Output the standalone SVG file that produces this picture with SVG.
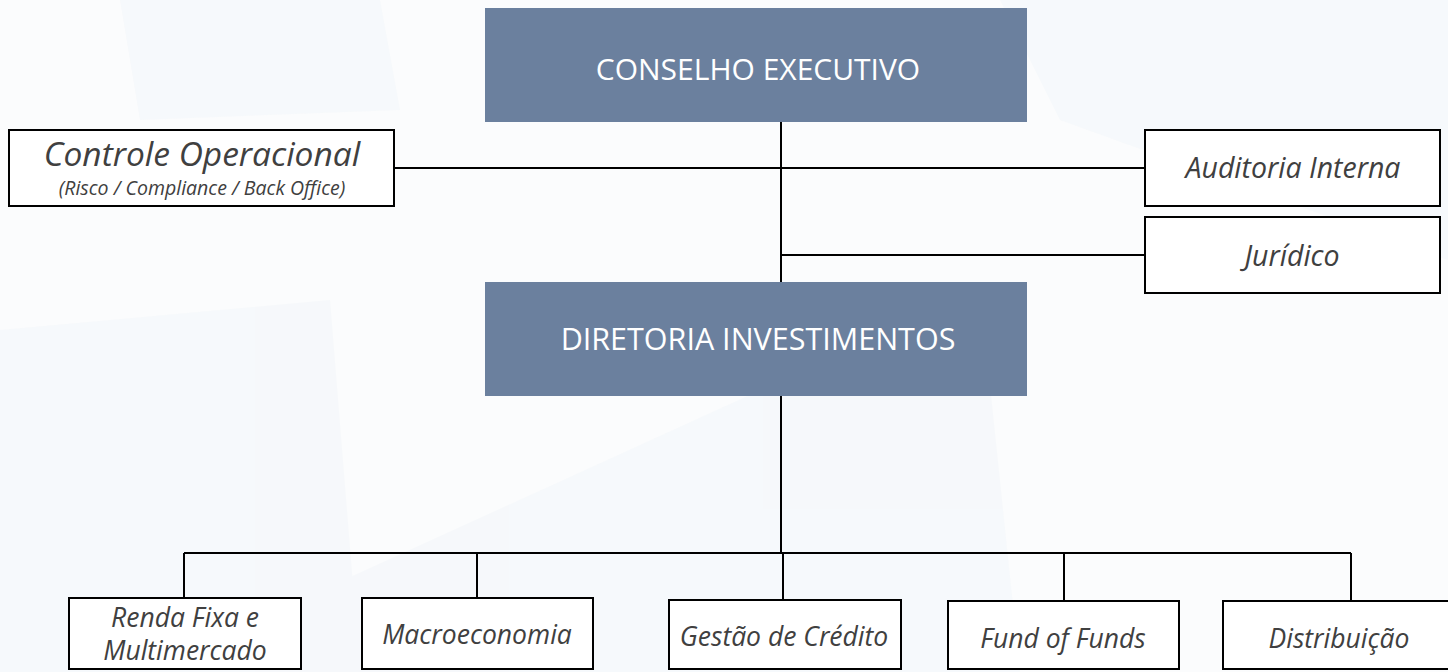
<svg xmlns="http://www.w3.org/2000/svg" width="1448" height="672" viewBox="0 0 1448 672">
<style>
.hdr{fill:#6b809e}
.box{fill:#ffffff;stroke:#000;stroke-width:2}
.ln{stroke:#000;stroke-width:2;fill:none}
.ht{font-family:"Open Sans","Liberation Sans",sans-serif;fill:#ffffff;text-anchor:middle}
.it{font-family:"Open Sans","Liberation Sans",sans-serif;font-style:italic;fill:#404040;text-anchor:middle}
.b{font-size:26.5px}
.r{font-size:28.5px}
</style>
<rect width="1448" height="672" fill="#fbfcfd"/>
<g id="bg" fill="#eef3f8" opacity="0.35">
<polygon points="0,330 330,300 360,672 0,672"/>
<polygon points="300,600 980,290 1020,672 320,672"/>
<polygon points="1000,0 1448,0 1448,260 1060,120"/>
<polygon points="120,0 380,0 400,110 140,120"/>
</g>
<g id="connectors">
<path class="ln" d="M781,122 V282 M781,396 V553"/>
<path class="ln" d="M394,168 H1145"/>
<path class="ln" d="M781,255 H1145"/>
<path class="ln" d="M184,553 H1351"/>
<path class="ln" d="M184,553 V598 M477,553 V598 M783,553 V600 M1064,553 V601 M1351,553 V601"/>
</g>
<g id="conselho">
<rect class="hdr" x="485" y="8" width="542" height="114"/>
<text class="ht" x="758" y="80" font-size="30">CONSELHO EXECUTIVO</text>
</g>
<g id="diretoria">
<rect class="hdr" x="485" y="282" width="542" height="114"/>
<text class="ht" x="758" y="350" font-size="30.5">DIRETORIA INVESTIMENTOS</text>
</g>
<g id="controle">
<rect class="box" x="9" y="130" width="385" height="76"/>
<text class="it" x="202" y="166" font-size="33.5">Controle Operacional</text>
<text class="it" x="202" y="195" font-size="19.5">(Risco / Compliance  / Back Office)</text>
</g>
<g id="auditoria">
<rect class="box" x="1145" y="130" width="295" height="76"/>
<text class="it r" x="1293" y="178">Auditoria Interna</text>
</g>
<g id="juridico">
<rect class="box" x="1145" y="217" width="295" height="76"/>
<text class="it r" x="1292" y="266">Jurídico</text>
</g>
<g id="renda">
<rect class="box" x="69" y="598" width="232" height="71"/>
<text class="it b" x="185" y="627">Renda Fixa e</text>
<text class="it b" x="185" y="660">Multimercado</text>
</g>
<g id="macro">
<rect class="box" x="362" y="598" width="231" height="71"/>
<text class="it b" x="477" y="644">Macroeconomia</text>
</g>
<g id="gestao">
<rect class="box" x="669" y="600" width="232" height="69"/>
<text class="it b" x="784" y="646">Gestão de Crédito</text>
</g>
<g id="fof">
<rect class="box" x="948" y="601" width="231" height="68"/>
<text class="it b" x="1063" y="648">Fund of Funds</text>
</g>
<g id="distrib">
<rect class="box" x="1223" y="601" width="232" height="68"/>
<text class="it b" x="1339" y="648">Distribuição</text>
</g>
</svg>
